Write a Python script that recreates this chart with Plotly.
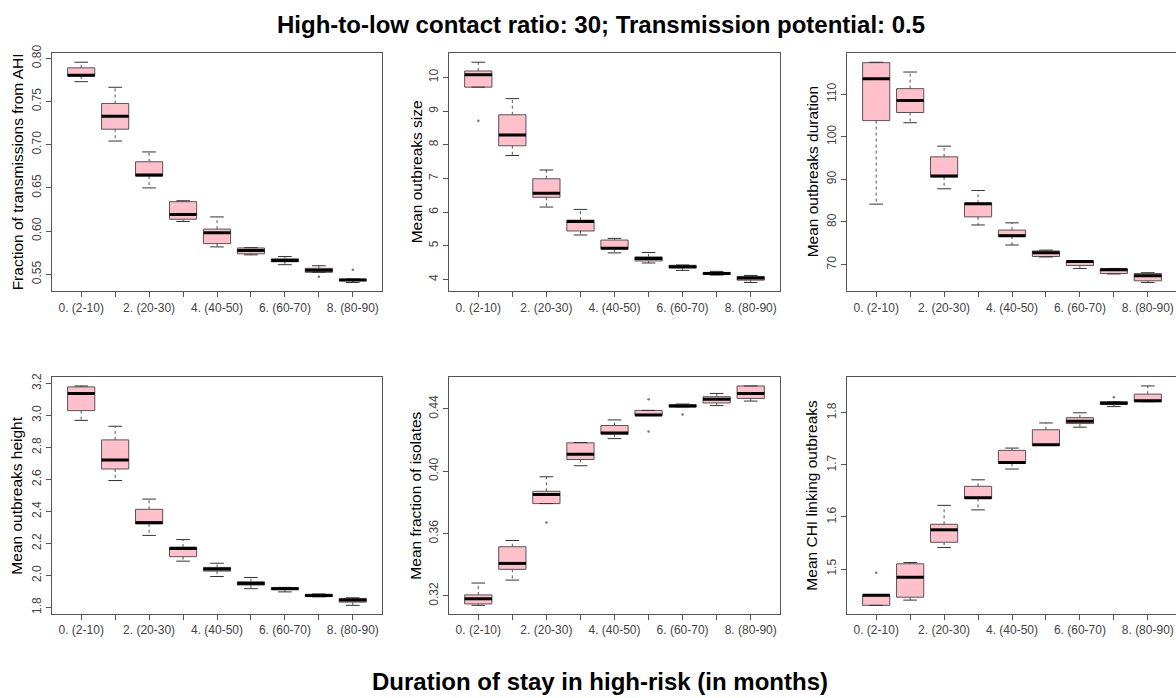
import plotly.graph_objects as go

categories = ["0. (2-10)", "1. (10-20)", "2. (20-30)", "3. (30-40)", "4. (40-50)",
              "5. (50-60)", "6. (60-70)", "7. (70-80)", "8. (80-90)"]

# Panel 1: Fraction of transmissions from AHI
ahi_hi  = [0.7954, 0.7664, 0.6916, 0.6351, 0.6164, 0.5809, 0.5706, 0.5599, 0.5446]
ahi_q3  = [0.7889, 0.7477, 0.6802, 0.6340, 0.6023, 0.5805, 0.5679, 0.5569, 0.5443]
ahi_med = [0.7802, 0.7328, 0.6649, 0.6191, 0.5981, 0.5775, 0.5660, 0.5546, 0.5435]
ahi_q1  = [0.7794, 0.7179, 0.6637, 0.6137, 0.5855, 0.5737, 0.5645, 0.5523, 0.5427]
ahi_lo  = [0.7729, 0.7042, 0.6500, 0.6111, 0.5817, 0.5725, 0.5611, 0.5523, 0.5405]
ahi_out_cat = [7, 8]
ahi_out_val = [0.5473, 0.5553]

# Panel 2: Mean outbreaks size
size_hi  = [10.45, 9.37, 7.25, 6.08, 5.22, 4.80, 4.43, 4.24, 4.12]
size_q3  = [10.19, 8.89, 6.99, 5.76, 5.17, 4.67, 4.42, 4.21, 4.09]
size_med = [10.08, 8.29, 6.56, 5.72, 4.93, 4.62, 4.38, 4.18, 4.04]
size_q1  = [9.71, 7.97, 6.44, 5.44, 4.91, 4.55, 4.34, 4.15, 3.98]
size_lo  = [9.71, 7.68, 6.15, 5.32, 4.79, 4.49, 4.27, 4.13, 3.91]
size_out_cat = [0]
size_out_val = [8.71]

# Panel 3: Mean outbreaks duration
dur_hi  = [117.5, 115.2, 97.8, 87.4, 79.8, 73.4, 70.9, 69.1, 68.1]
dur_q3  = [117.4, 111.3, 95.3, 84.4, 78.1, 73.2, 70.8, 69.0, 67.9]
dur_med = [113.6, 108.5, 90.8, 84.3, 76.8, 72.8, 70.7, 68.8, 67.4]
dur_q1  = [103.8, 105.7, 90.6, 81.2, 76.7, 71.9, 69.8, 67.9, 66.2]
dur_lo  = [84.2, 103.3, 87.8, 79.3, 74.6, 71.8, 69.1, 67.8, 65.8]
dur_out_cat = []
dur_out_val = []

# Panel 4: Mean outbreaks height
hgt_hi  = [3.184, 2.932, 2.477, 2.224, 2.076, 1.987, 1.925, 1.884, 1.860]
hgt_q3  = [3.178, 2.847, 2.413, 2.177, 2.050, 1.960, 1.923, 1.882, 1.856]
hgt_med = [3.137, 2.722, 2.330, 2.168, 2.040, 1.950, 1.917, 1.874, 1.846]
hgt_q1  = [3.030, 2.665, 2.322, 2.117, 2.027, 1.940, 1.911, 1.868, 1.833]
hgt_lo  = [2.969, 2.593, 2.250, 2.089, 1.993, 1.917, 1.897, 1.866, 1.813]
hgt_out_cat = []
hgt_out_val = []

# Panel 5: Mean fraction of isolates
iso_hi  = [0.3282, 0.3555, 0.3964, 0.4184, 0.4329, 0.4390, 0.4431, 0.4499, 0.4547]
iso_q3  = [0.3206, 0.3515, 0.3871, 0.4182, 0.4293, 0.4390, 0.4427, 0.4478, 0.4547]
iso_med = [0.3181, 0.3408, 0.3850, 0.4108, 0.4245, 0.4360, 0.4419, 0.4461, 0.4499]
iso_q1  = [0.3148, 0.3370, 0.3792, 0.4075, 0.4238, 0.4358, 0.4413, 0.4438, 0.4467]
iso_lo  = [0.3139, 0.3301, 0.3792, 0.4035, 0.4209, 0.4358, 0.4413, 0.4421, 0.4450]
iso_out_cat = [2, 5, 5, 6]
iso_out_val = [0.3670, 0.4461, 0.4255, 0.4364]

# Panel 6: Mean CHI linking outbreaks
chi_hi  = [1.4503, 1.5125, 1.6223, 1.6713, 1.7322, 1.7805, 1.8000, 1.8213, 1.8515]
chi_q3  = [1.4503, 1.5100, 1.5859, 1.6588, 1.7278, 1.7674, 1.7906, 1.8213, 1.8358]
chi_med = [1.4497, 1.4842, 1.5753, 1.6368, 1.7046, 1.7385, 1.7837, 1.8182, 1.8232]
chi_q1  = [1.4303, 1.4459, 1.5514, 1.6355, 1.7027, 1.7372, 1.7793, 1.8163, 1.8213]
chi_lo  = [1.4303, 1.4403, 1.5414, 1.6136, 1.6920, 1.7372, 1.7724, 1.8119, 1.8213]
chi_out_cat = [0, 7]
chi_out_val = [1.493, 1.830]

panel_titles = ["Fraction of transmissions from AHI", "Mean outbreaks size",
                "Mean outbreaks duration", "Mean outbreaks height",
                "Mean fraction of isolates", "Mean CHI linking outbreaks"]
y_tickvals = [[0.55, 0.60, 0.65, 0.70, 0.75, 0.80], [4, 5, 6, 7, 8, 9, 10],
              [70, 80, 90, 100, 110], [1.8, 2.0, 2.2, 2.4, 2.6, 2.8, 3.0, 3.2],
              [0.32, 0.36, 0.40, 0.44], [1.5, 1.6, 1.7, 1.8]]
y_tickfmt = [".2f", ".0f", ".0f", ".1f", ".2f", ".1f"]

main_title = "High-to-low contact ratio: 30; Transmission potential: 0.5"
x_title = "Duration of stay in high-risk (in months)"

panels = [
    (ahi_lo, ahi_q1, ahi_med, ahi_q3, ahi_hi, ahi_out_cat, ahi_out_val),
    (size_lo, size_q1, size_med, size_q3, size_hi, size_out_cat, size_out_val),
    (dur_lo, dur_q1, dur_med, dur_q3, dur_hi, dur_out_cat, dur_out_val),
    (hgt_lo, hgt_q1, hgt_med, hgt_q3, hgt_hi, hgt_out_cat, hgt_out_val),
    (iso_lo, iso_q1, iso_med, iso_q3, iso_hi, iso_out_cat, iso_out_val),
    (chi_lo, chi_q1, chi_med, chi_q3, chi_hi, chi_out_cat, chi_out_val),
]

W, H = 1176, 698
col_px = [(52, 382), (449, 780), (847, 1177)]
row_px = [(45, 286), (373, 613)]
ytitle_x_px = [17, 416, 812]

FONT = "Liberation Sans, Arial, sans-serif"
LINE = "#555555"
TICKFONT = dict(family=FONT, size=12, color="#444444")

fig = go.Figure()
layout = dict(width=W, height=H, margin=dict(l=0, r=0, t=0, b=0),
              paper_bgcolor="white", plot_bgcolor="white", showlegend=False,
              font=dict(family=FONT))
annotations = []
positions = list(range(len(categories)))
ticktext = [c if i % 2 == 0 else "" for i, c in enumerate(categories)]

for k, (lo, q1, med, q3, hi, oc, ov) in enumerate(panels):
    r, c = divmod(k, 3)
    n = k + 1
    xa = "x" if n == 1 else f"x{n}"
    ya = "y" if n == 1 else f"y{n}"

    fig.add_trace(go.Box(x=positions, q1=q1, median=med, q3=q3,
                         lowerfence=q1, upperfence=q3, width=0.8,
                         fillcolor="pink", line=dict(color=LINE, width=1),
                         whiskerwidth=0, boxpoints=False, hoverinfo="skip",
                         xaxis=xa, yaxis=ya))
    wx, wy, sx, sy, mx, my = [], [], [], [], [], []
    for i in positions:
        wx += [i, i, None, i, i, None]
        wy += [q3[i], hi[i], None, q1[i], lo[i], None]
        sx += [i - 0.2, i + 0.2, None, i - 0.2, i + 0.2, None]
        sy += [hi[i], hi[i], None, lo[i], lo[i], None]
        mx += [i - 0.4, i + 0.4, None]
        my += [med[i], med[i], None]
    fig.add_trace(go.Scatter(x=wx, y=wy, mode="lines", hoverinfo="skip",
                             line=dict(color=LINE, width=1, dash="3px,3px"),
                             xaxis=xa, yaxis=ya))
    fig.add_trace(go.Scatter(x=sx, y=sy, mode="lines", hoverinfo="skip",
                             line=dict(color="#333333", width=1),
                             xaxis=xa, yaxis=ya))
    fig.add_trace(go.Scatter(x=mx, y=my, mode="lines", hoverinfo="skip",
                             line=dict(color="black", width=3),
                             xaxis=xa, yaxis=ya))
    if oc:
        fig.add_trace(go.Scatter(x=oc, y=ov, mode="markers", hoverinfo="skip",
                                 marker=dict(color="#777777", size=2.5),
                                 xaxis=xa, yaxis=ya))

    allv = lo + hi + ov
    vmin, vmax = min(allv), max(allv)
    ext = 0.04 * (vmax - vmin)
    x0p, x1p = col_px[c]
    y0p, y1p = row_px[r]
    x_end = min(x1p, W)
    full_span = 9.72
    xr = [-0.86, -0.86 + full_span * (x_end - x0p) / (x1p - x0p)]

    layout["xaxis" if n == 1 else f"xaxis{n}"] = dict(
        domain=[x0p / W, x_end / W], anchor=ya, range=xr,
        tickmode="array", tickvals=positions, ticktext=ticktext,
        ticks="outside", ticklen=5, tickcolor=LINE, tickwidth=1,
        showline=True, linecolor=LINE, linewidth=1, mirror=True,
        showgrid=False, zeroline=False, tickfont=TICKFONT, tickangle=0)
    layout["yaxis" if n == 1 else f"yaxis{n}"] = dict(
        domain=[1 - y1p / H, 1 - y0p / H], anchor=xa,
        range=[vmin - ext, vmax + ext],
        tickmode="array", tickvals=y_tickvals[k], tickformat=y_tickfmt[k],
        ticks="outside", ticklen=5, tickcolor=LINE, tickwidth=1,
        showline=True, linecolor=LINE, linewidth=1, mirror=(c != 2),
        showgrid=False, zeroline=False, tickfont=TICKFONT, tickangle=-90)

    annotations.append(dict(text=panel_titles[k], xref="paper", yref="paper",
                            x=ytitle_x_px[c] / W, y=1 - (y0p + y1p) / 2 / H,
                            xanchor="center", yanchor="middle", textangle=-90,
                            showarrow=False,
                            font=dict(family=FONT, size=15.5, color="black")))

annotations.append(dict(text="<b>" + main_title + "</b>", xref="paper", yref="paper",
                        x=601 / W, y=1.0, xanchor="center", yanchor="top",
                        showarrow=False, font=dict(family=FONT, size=24, color="black")))
annotations.append(dict(text="<b>" + x_title + "</b>", xref="paper", yref="paper",
                        x=600 / W, y=1 - 681 / H, xanchor="center", yanchor="middle",
                        showarrow=False, font=dict(family=FONT, size=24, color="black")))
layout["annotations"] = annotations

fig.update_layout(**layout)
fig.write_html("out.html")
